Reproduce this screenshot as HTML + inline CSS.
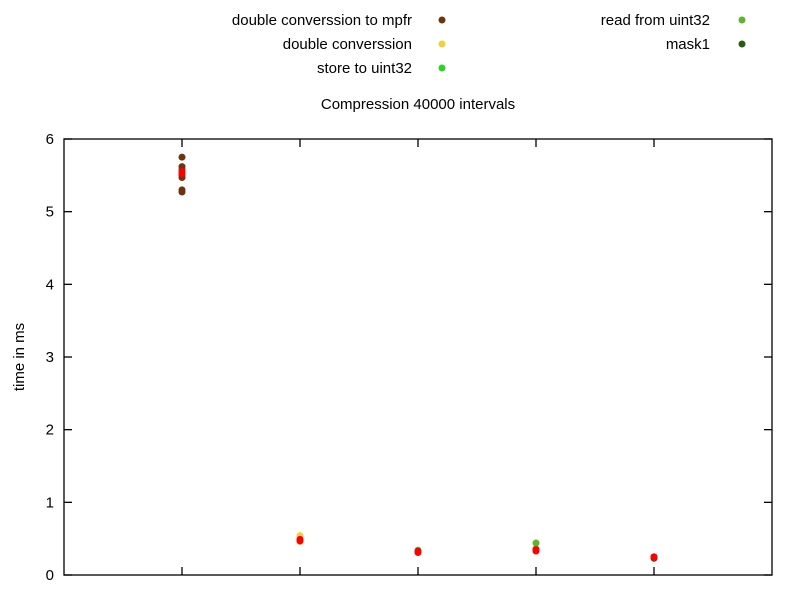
<!DOCTYPE html>
<html><head><meta charset="utf-8"><style>
body{margin:0;background:#fff}
svg{display:block;font-family:"Liberation Sans",sans-serif;font-size:15px}
</style></head><body>
<svg id="chart" width="800" height="600">
<g id="legend"></g>
<text x="418" y="109" text-anchor="middle">Compression 40000 intervals</text>
<text transform="translate(24,357) rotate(-90)" text-anchor="middle">time in ms</text>
<rect x="64" y="139" width="708" height="436" fill="none" stroke="#000" stroke-width="1.3"/>
<g id="axes"></g>
<g id="marks"></g>
</svg>
<script>
const categories=[1,2,3,4,5];
const seriesNames=["double converssion to mpfr","double converssion","store to uint32","read from uint32","mask1"];
const seriesColors=["#6b3510","#f2d03a","#2ed420","#5db52c","#2a5c14"];
const s0=[5.75,5.62,5.58,5.5,5.47,5.3,5.27];
const s1=[0.54,0.46];
const s2=[0.34,0.32];
const s3=[0.44,0.36];
const s4=[0.25,0.23];
const seriesValues=[s0,s1,s2,s3,s4];
const redValues=[[5.55,5.52],[0.47,0.49],[0.31,0.33],[0.35,0.33],[0.24,0.25]];
const yTicks=[0,1,2,3,4,5,6];
const NS="http://www.w3.org/2000/svg";
const X0=64,X1=772,Y0=575,Y1=139;
const xs=v=>X0+(v-0)/(6-0)*(X1-X0);
const ys=v=>Y0-(v-0)/(6-0)*(Y0-Y1);
function mk(tag,attrs,parent){const e=document.createElementNS(NS,tag);for(const k in attrs)e.setAttribute(k,attrs[k]);parent.appendChild(e);return e;}
const axes=document.getElementById('axes'),marks=document.getElementById('marks'),legend=document.getElementById('legend');
yTicks.forEach(t=>{
  const y=ys(t);
  const l=mk('line',{x1:X0,x2:X0+8,y1:y,y2:y,stroke:'#000','stroke-width':1.3},axes);
  
  
  const r=mk('line',{x1:X1-8,x2:X1,y1:y,y2:y,stroke:'#000','stroke-width':1.3},axes);
  
  
  const tx=mk('text',{x:X0-10,y:y+5,'text-anchor':'end'},axes);
  tx.textContent=t;
  
  
});
categories.forEach(c=>{
  const x=xs(c);
  const l=mk('line',{x1:x,x2:x,y1:Y0,y2:Y0-8,stroke:'#000','stroke-width':1.3},axes);
  
  
  const t=mk('line',{x1:x,x2:x,y1:Y1,y2:Y1+8,stroke:'#000','stroke-width':1.3},axes);
  
  
});
seriesValues.forEach((vals,i)=>{
  vals.forEach(v=>{
    const p=mk('circle',{cx:xs(categories[i]),cy:ys(v),r:3.5,fill:seriesColors[i]},marks);
    
    
  });
});
redValues.forEach((vals,i)=>{
  vals.forEach(v=>{
    const p=mk('circle',{cx:xs(categories[i]),cy:ys(v),r:3.5,fill:'#ff0000'},marks);
    
    
  });
});
const legPos=[[412,442,20],[412,442,44],[412,442,68],[710,742,20],[710,742,44]];
seriesNames.forEach((n,i)=>{
  const [tx,dx,y]=legPos[i];
  const t=mk('text',{x:tx,y:y+5,'text-anchor':'end'},legend);
  t.textContent=n;
  
  
  const d=mk('circle',{cx:dx,cy:y,r:3.5,fill:seriesColors[i]},legend);
  
  
});
</script>
</body></html>
